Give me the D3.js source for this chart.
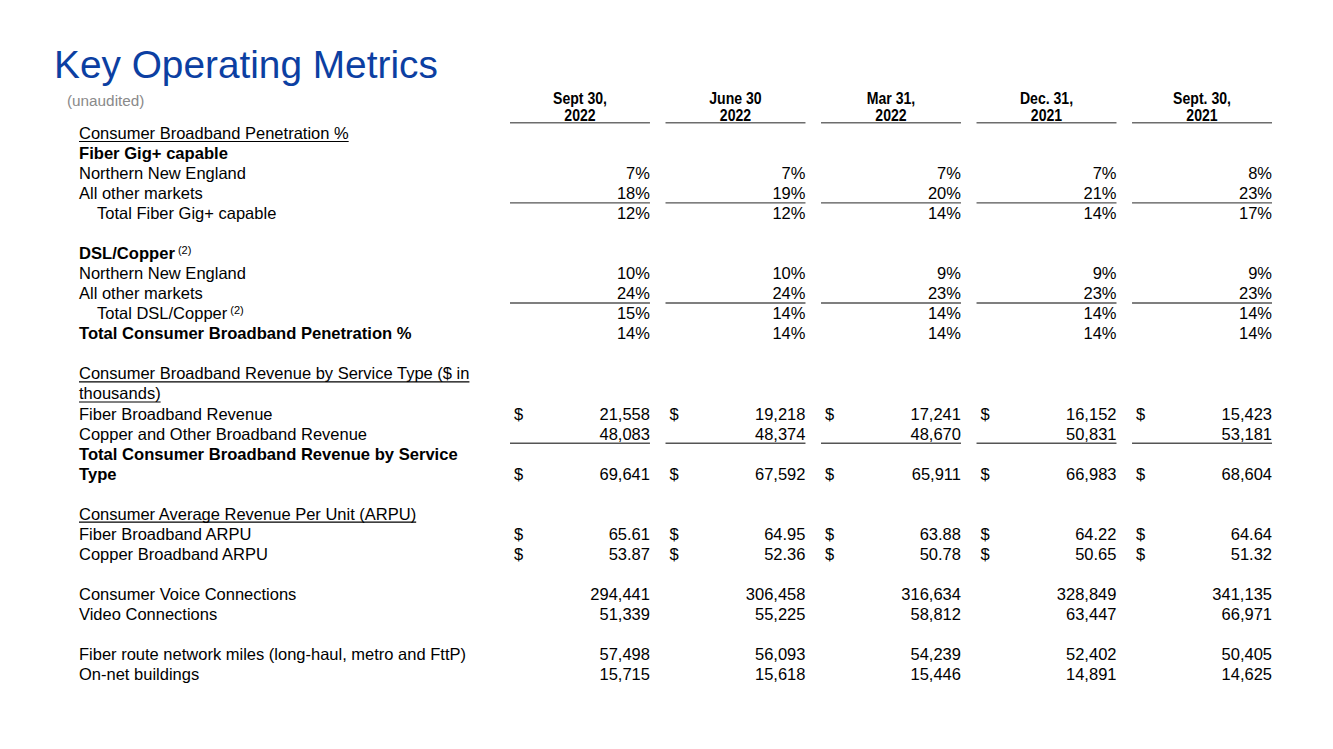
<!DOCTYPE html>
<html><head><meta charset="utf-8">
<script src="https://cdn.jsdelivr.net/npm/d3@7"></script>
<style>
html,body{margin:0;padding:0;background:#fff;}
svg{display:block;}
</style></head>
<body>
<svg id="c" width="1333" height="749"></svg>
<script>
// ---------- data ----------
const periodsLine1 = ["Sept 30,", "June 30", "Mar 31,", "Dec. 31,", "Sept. 30,"];
const periodsLine2 = ["2022", "2022", "2022", "2021", "2021"];

const fiberNNE      = [7, 7, 7, 7, 8];
const fiberOther    = [18, 19, 20, 21, 23];
const fiberTotal    = [12, 12, 14, 14, 17];
const dslNNE        = [10, 10, 9, 9, 9];
const dslOther      = [24, 24, 23, 23, 23];
const dslTotal      = [15, 14, 14, 14, 14];
const broadbandPen  = [14, 14, 14, 14, 14];
const fiberRevenue  = [21558, 19218, 17241, 16152, 15423];
const copperRevenue = [48083, 48374, 48670, 50831, 53181];
const totalRevenue  = [69641, 67592, 65911, 66983, 68604];
const fiberARPU     = [65.61, 64.95, 63.88, 64.22, 64.64];
const copperARPU    = [53.87, 52.36, 50.78, 50.65, 51.32];
const voiceConn     = [294441, 306458, 316634, 328849, 341135];
const videoConn     = [51339, 55225, 58812, 63447, 66971];
const fiberMiles    = [57498, 56093, 54239, 52402, 50405];
const onNetBldgs    = [15715, 15618, 15446, 14891, 14625];

const pct = d => d + "%";
const num = d3.format(",");
const dec = d3.format(".2f");

// row slots: label, kind, values, format, dollar, rule below
const rows = [
  {slot:0,  label:"Consumer Broadband Penetration %", kind:"u"},
  {slot:1,  label:"Fiber Gig+ capable", kind:"b"},
  {slot:2,  label:"Northern New England", values:fiberNNE, fmt:pct},
  {slot:3,  label:"All other markets", values:fiberOther, fmt:pct, rule:true},
  {slot:4,  label:"Total Fiber Gig+ capable", indent:true, values:fiberTotal, fmt:pct},
  {slot:6,  label:"DSL/Copper", kind:"b", sup:"(2)"},
  {slot:7,  label:"Northern New England", values:dslNNE, fmt:pct},
  {slot:8,  label:"All other markets", values:dslOther, fmt:pct, rule:true},
  {slot:9,  label:"Total DSL/Copper", indent:true, sup:"(2)", values:dslTotal, fmt:pct},
  {slot:10, label:"Total Consumer Broadband Penetration %", kind:"b", values:broadbandPen, fmt:pct},
  {slot:12, label:"Consumer Broadband Revenue by Service Type ($ in", kind:"u"},
  {slot:13, label:"thousands)", kind:"u"},
  {slot:14, label:"Fiber Broadband Revenue", values:fiberRevenue, fmt:num, dollar:true},
  {slot:15, label:"Copper and Other Broadband Revenue", values:copperRevenue, fmt:num, rule:true},
  {slot:16, label:"Total Consumer Broadband Revenue by Service", kind:"b"},
  {slot:17, label:"Type", kind:"b", values:totalRevenue, fmt:num, dollar:true},
  {slot:19, label:"Consumer Average Revenue Per Unit (ARPU)", kind:"u"},
  {slot:20, label:"Fiber Broadband ARPU", values:fiberARPU, fmt:dec, dollar:true},
  {slot:21, label:"Copper Broadband ARPU", values:copperARPU, fmt:dec, dollar:true},
  {slot:23, label:"Consumer Voice Connections", values:voiceConn, fmt:num},
  {slot:24, label:"Video Connections", values:videoConn, fmt:num},
  {slot:26, label:"Fiber route network miles (long-haul, metro and FttP)", values:fiberMiles, fmt:num},
  {slot:27, label:"On-net buildings", values:onNetBldgs, fmt:num}
];

// ---------- drawing ----------
const svg = d3.select("#c");
const LABEL_FONT = "'Liberation Sans', Arial, Helvetica, sans-serif";

const x = d3.scaleBand().domain(d3.range(5)).range([510, 1272]).paddingInner(0.1).paddingOuter(0);
const y = d3.scaleLinear().domain([0, 27]).range([139, 680]); // baselines

svg.append("text").attr("x", 54).attr("y", 78)
  .attr("font-family", LABEL_FONT).attr("font-size", 38.8).attr("fill", "#0c3fa2")
  .text("Key Operating Metrics");

svg.append("text").attr("x", 67).attr("y", 106)
  .attr("font-family", LABEL_FONT).attr("font-size", 15.3).attr("fill", "#8a8a8a")
  .text("(unaudited)");

// column headers (condensed bold)
const hdr = svg.append("g").attr("font-family", LABEL_FONT).attr("font-weight", "bold")
  .attr("font-size", 16).attr("text-anchor", "middle").attr("fill", "#000");
hdr.selectAll("text.l1").data(periodsLine1).join("text").attr("class","l1")
  .attr("transform", (d,i) => `translate(${x(i) + x.bandwidth()/2},104) scale(0.88,1)`).text(d => d);
hdr.selectAll("text.l2").data(periodsLine2).join("text").attr("class","l2")
  .attr("transform", (d,i) => `translate(${x(i) + x.bandwidth()/2},120.5) scale(0.88,1)`).text(d => d);
svg.append("g").selectAll("line").data(d3.range(5)).join("line")
  .attr("x1", i => x(i)).attr("x2", i => x(i) + x.bandwidth())
  .attr("y1", 122.7).attr("y2", 122.7).attr("stroke", "#6d6d6d").attr("stroke-width", 1.6);

// labels
const lab = svg.append("g").attr("font-family", LABEL_FONT).attr("font-size", 16.5).attr("fill", "#000");
rows.forEach(r => {
  const t = lab.append("text").attr("x", r.indent ? 97 : 79).attr("y", y(r.slot))
    .attr("font-weight", r.kind === "b" ? "bold" : "normal")
    .attr("font-size", r.kind === "b" ? 16.6 : 16.5);
  t.append("tspan").text(r.label);
  if (r.sup) {
    t.append("tspan").attr("font-size", 11).attr("font-weight", "normal").attr("dy", -5).text(" " + r.sup);
  }
  if (r.kind === "u") {
    const w = t.node().getComputedTextLength();
    lab.append("line").attr("x1", 79).attr("x2", 79 + w)
      .attr("y1", y(r.slot) + 2.5).attr("y2", y(r.slot) + 2.5)
      .attr("stroke", "#000").attr("stroke-width", 1.2);
  }
});

// values
const val = svg.append("g").attr("font-family", LABEL_FONT).attr("font-size", 16.5).attr("fill", "#000");
rows.filter(r => r.values).forEach(r => {
  val.append("g").selectAll("text").data(r.values).join("text")
    .attr("x", (d,i) => x(i) + x.bandwidth()).attr("y", y(r.slot))
    .attr("text-anchor", "end").text(d => r.fmt(d));
  if (r.dollar) {
    val.append("g").selectAll("text").data(r.values).join("text")
      .attr("x", (d,i) => x(i) + 4).attr("y", y(r.slot)).text("$");
  }
  if (r.rule) {
    svg.append("g").selectAll("line").data(r.values).join("line")
      .attr("x1", (d,i) => x(i)).attr("x2", (d,i) => x(i) + x.bandwidth())
      .attr("y1", y(r.slot) + 3.7).attr("y2", y(r.slot) + 3.7)
      .attr("stroke", "#555").attr("stroke-width", 1.3);
  }
});
</script>
</body></html>
